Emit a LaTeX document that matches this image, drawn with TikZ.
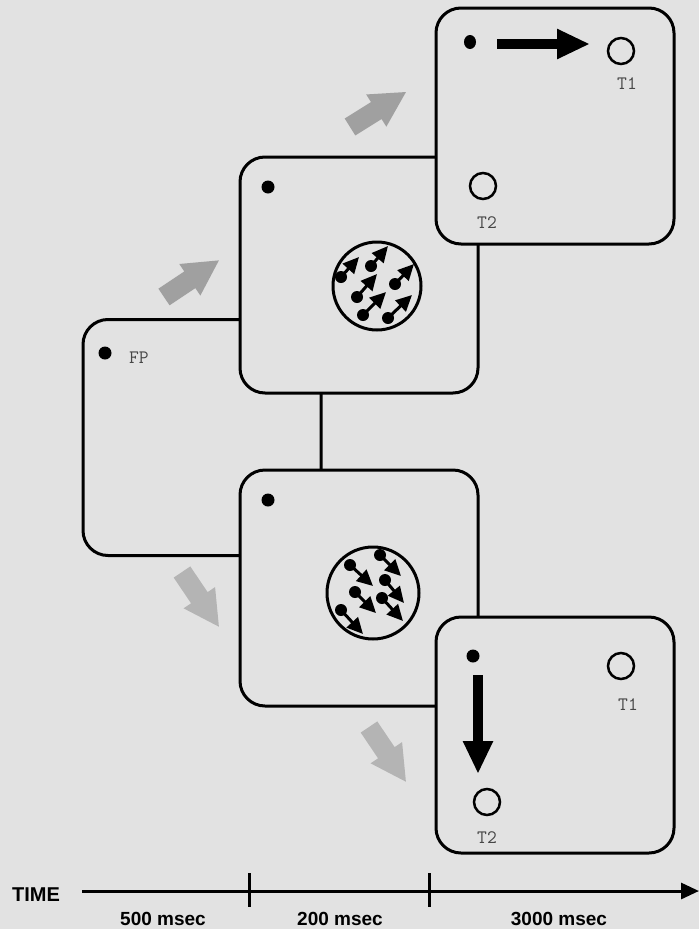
\documentclass[tikz,border=0pt]{standalone}
\usepackage{fontspec}
\setmainfont{Liberation Sans}
\usetikzlibrary{arrows.meta}
\definecolor{bg}{RGB}{226,226,226}
\definecolor{garrowA}{RGB}{160,160,160}
\definecolor{garrowB}{RGB}{180,180,180}
\definecolor{labgray}{RGB}{70,70,70}
\newcommand\patchvec[4]{\fill (#1,#2) circle[radius=6pt]; \draw[pvec] (#1,#2) -- (#3,#4);}
\begin{document}
\begin{tikzpicture}[x=1pt,y=-1pt,
  frame/.style={draw=black, line width=3pt, rounded corners=25pt, fill=bg,
    minimum width=238pt, minimum height=236pt, inner sep=0pt, outer sep=0pt},
  pvec/.style={line width=3pt, -{Triangle[length=16pt,width=15pt]}},
  bigvec/.style={line width=10pt, -{Triangle[length=33pt,width=28pt]}},
  patch/.style={draw=black, line width=3pt, circle, inner sep=0pt, outer sep=0pt},
  target/.style={draw=black, line width=2.5pt, circle, minimum size=26pt, inner sep=0pt},
  tlabel/.style={font=\ttfamily\fontsize{19}{19}\selectfont, text=labgray, inner sep=0pt},
  timelab/.style={font=\bfseries\fontsize{19}{19}\selectfont, inner sep=0pt, anchor=base},
  grayarrow/.pic={\fill[#1] (0,-10) -- (31,-10) -- (31,-19) -- (66,0) -- (31,19) -- (31,10) -- (0,10) -- cycle;},
  axis/.style={line width=3pt}
]
\fill[bg] (0,0) rectangle (699,929);
\useasboundingbox (0,0) rectangle (699,929);

% gray arrows
\pic[rotate=33.7] at (164,297) {grayarrow=garrowA};
\pic[rotate=32] at (350,127) {grayarrow=garrowA};
\pic[rotate=-56] at (182,572) {grayarrow=garrowB};
\pic[rotate=-56] at (369,727) {grayarrow=garrowB};

% frames
\node[frame] (fp) at (202,437.5) {};
\node[frame] (up) at (359,275) {};
\node[frame] (ur) at (555,126) {};
\node[frame] (dn) at (359,588) {};
\node[frame] (dr) at (555,735) {};

% FP frame
\fill (105,353) circle[radius=6.5pt];
\node[tlabel, anchor=base west] (fplab) at (129,363) {FP};

% upper motion frame
\fill (268,187) circle[radius=6.5pt];
\node[patch, minimum size=88pt] (pu) at (377,286) {};
\patchvec{341}{277}{359}{257}
\patchvec{371}{266}{388}{246}
\patchvec{357}{297}{377}{274}
\patchvec{395}{284}{414}{264}
\patchvec{363}{315}{386}{292}
\patchvec{388}{318}{412}{295}

% lower motion frame
\fill (268,500) circle[radius=6.5pt];
\node[patch, minimum size=92pt] (pd) at (373,593) {};
\patchvec{350}{565}{373}{586}
\patchvec{380}{555}{401}{576}
\patchvec{385}{580}{404}{603}
\patchvec{355}{592}{376}{613}
\patchvec{382}{598}{403}{621}
\patchvec{341}{610}{363}{634}

% upper response frame
\fill (470,42) ellipse[x radius=6pt, y radius=7pt];
\node[target] (t1u) at (621,51) {};
\node[tlabel, anchor=base] (t1ul) at (627,89) {T1};
\node[target] (t2u) at (483,186) {};
\node[tlabel, anchor=base] (t2ul) at (487,228) {T2};
\coordinate (au0) at (497,44);
\coordinate (au1) at (590,44);
\draw[bigvec] (au0) -- (au1);

% lower response frame
\fill (473,656) circle[radius=6.5pt];
\node[target] (t1d) at (621,666) {};
\node[tlabel, anchor=base] (t1dl) at (628,710) {T1};
\node[target] (t2d) at (487,802) {};
\node[tlabel, anchor=base] (t2dl) at (487,843) {T2};
\coordinate (ad0) at (478,675);
\coordinate (ad1) at (478,774);
\draw[bigvec] (ad0) -- (ad1);

% time axis
\node[font=\bfseries\fontsize{20}{20}\selectfont, inner sep=0pt, anchor=base west] (time) at (12,901) {TIME};
\coordinate (ax0) at (82,891);
\coordinate (ax1) at (699,891);
\draw[axis, -{Triangle[length=18pt,width=16pt]}] (ax0) -- (ax1);
\coordinate (tk1a) at (249,873); \coordinate (tk1b) at (249,907);
\coordinate (tk2a) at (429,873); \coordinate (tk2b) at (429,907);
\draw[axis] (tk1a) -- (tk1b);
\draw[axis] (tk2a) -- (tk2b);
\node[timelab] (l1) at (163,925) {500 msec};
\node[timelab] (l2) at (340,925) {200 msec};
\node[timelab] (l3) at (559,925) {3000 msec};
\end{tikzpicture}
\end{document}
